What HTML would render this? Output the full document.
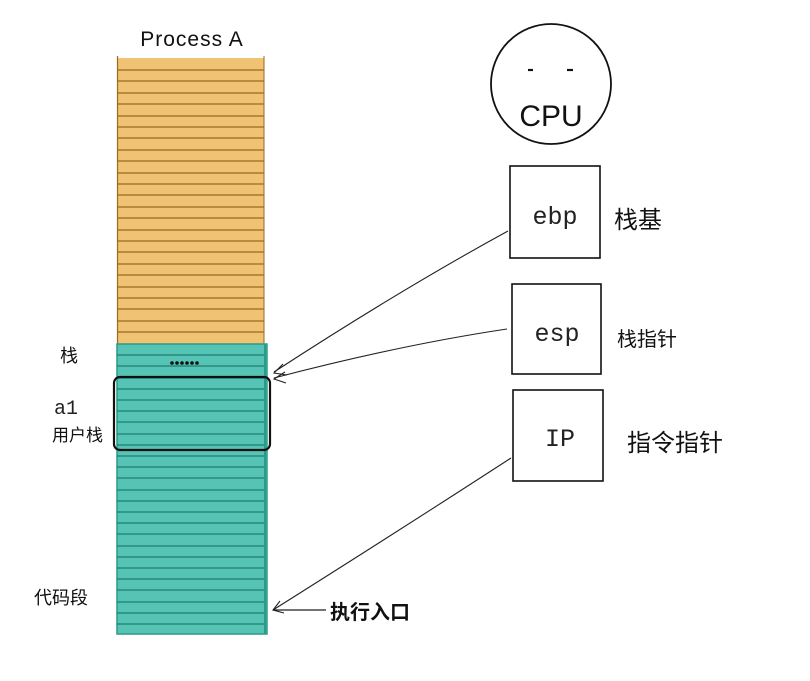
<!DOCTYPE html>
<html><head><meta charset="utf-8"><style>
html,body{margin:0;padding:0;background:#fff;width:810px;height:681px;overflow:hidden}
svg{display:block}
.cn{font-family:"Liberation Sans","Noto Sans CJK SC",sans-serif;fill:#111}
.mono{font-family:"Liberation Mono",monospace;fill:#222}
</style></head><body>
<svg width="810" height="681" viewBox="0 0 810 681" xmlns="http://www.w3.org/2000/svg">
<text x="192" y="46" text-anchor="middle" font-family="Liberation Sans,sans-serif" font-size="21" fill="#111" letter-spacing="1">Process A</text>
<rect x="117" y="58" width="147" height="286" fill="#f0c274"/>
<line x1="117.5" y1="56" x2="117.5" y2="344" stroke="#9a6a1e" stroke-width="1.2"/>
<line x1="264" y1="56" x2="264" y2="344" stroke="#9a6a1e" stroke-width="1"/>
<g stroke="#9a6a1e" stroke-width="1.3">
<line x1="117" x2="264" y1="70" y2="70"/><line x1="117" x2="264" y1="81" y2="81"/><line x1="117" x2="264" y1="93" y2="93"/><line x1="117" x2="264" y1="104" y2="104"/><line x1="117" x2="264" y1="116" y2="116"/><line x1="117" x2="264" y1="127" y2="127"/><line x1="117" x2="264" y1="138" y2="138"/><line x1="117" x2="264" y1="150" y2="150"/><line x1="117" x2="264" y1="161" y2="161"/><line x1="117" x2="264" y1="173" y2="173"/><line x1="117" x2="264" y1="184" y2="184"/><line x1="117" x2="264" y1="195" y2="195"/><line x1="117" x2="264" y1="207" y2="207"/><line x1="117" x2="264" y1="218" y2="218"/><line x1="117" x2="264" y1="230" y2="230"/><line x1="117" x2="264" y1="241" y2="241"/><line x1="117" x2="264" y1="252" y2="252"/><line x1="117" x2="264" y1="264" y2="264"/><line x1="117" x2="264" y1="275" y2="275"/><line x1="117" x2="264" y1="287" y2="287"/><line x1="117" x2="264" y1="298" y2="298"/><line x1="117" x2="264" y1="309" y2="309"/><line x1="117" x2="264" y1="321" y2="321"/><line x1="117" x2="264" y1="332" y2="332"/>
</g>
<rect x="117" y="344" width="150" height="290" fill="#56c4b4" stroke="#2a9a8a" stroke-width="1.5"/>
<line x1="265" y1="344" x2="265" y2="634" stroke="#2a9a8a" stroke-width="2"/>
<g stroke="#1f7d72" stroke-width="1.2">
<line x1="117" x2="264" y1="355" y2="355"/><line x1="117" x2="264" y1="366" y2="366"/><line x1="117" x2="264" y1="378" y2="378"/><line x1="117" x2="264" y1="389" y2="389"/><line x1="117" x2="264" y1="400" y2="400"/><line x1="117" x2="264" y1="411" y2="411"/><line x1="117" x2="264" y1="422" y2="422"/><line x1="117" x2="264" y1="434" y2="434"/><line x1="117" x2="264" y1="445" y2="445"/><line x1="117" x2="264" y1="456" y2="456"/><line x1="117" x2="264" y1="467" y2="467"/><line x1="117" x2="264" y1="478" y2="478"/><line x1="117" x2="264" y1="490" y2="490"/><line x1="117" x2="264" y1="501" y2="501"/><line x1="117" x2="264" y1="512" y2="512"/><line x1="117" x2="264" y1="523" y2="523"/><line x1="117" x2="264" y1="534" y2="534"/><line x1="117" x2="264" y1="546" y2="546"/><line x1="117" x2="264" y1="557" y2="557"/><line x1="117" x2="264" y1="568" y2="568"/><line x1="117" x2="264" y1="579" y2="579"/><line x1="117" x2="264" y1="590" y2="590"/><line x1="117" x2="264" y1="602" y2="602"/><line x1="117" x2="264" y1="613" y2="613"/><line x1="117" x2="264" y1="624" y2="624"/>
</g>
<g fill="#111"><circle cx="172" cy="363" r="1.8"/><circle cx="177" cy="363" r="1.8"/><circle cx="182" cy="363" r="1.8"/><circle cx="187" cy="363" r="1.8"/><circle cx="192" cy="363" r="1.8"/><circle cx="197" cy="363" r="1.8"/></g>
<rect x="114" y="377" width="156" height="73" rx="6" fill="none" stroke="#111" stroke-width="2.2"/>
<text class="cn" x="60" y="362" font-size="18">栈</text>
<text class="mono" x="54" y="414" font-size="20">a1</text>
<text class="cn" x="52" y="441" font-size="17">用户栈</text>
<text class="cn" x="34" y="604" font-size="18">代码段</text>
<text class="cn" x="330" y="619" font-size="20" font-weight="bold">执行入口</text>
<line x1="273" y1="610" x2="326" y2="610" stroke="#222" stroke-width="1.2"/>
<circle cx="551" cy="84" r="60" fill="none" stroke="#111" stroke-width="1.8"/>
<line x1="528" y1="70" x2="533" y2="70" stroke="#111" stroke-width="2.2"/>
<line x1="567" y1="70" x2="573" y2="70" stroke="#111" stroke-width="2.2"/>
<text x="551" y="126" text-anchor="middle" font-family="Liberation Sans,sans-serif" font-size="30" fill="#111">CPU</text>
<g fill="none" stroke="#111" stroke-width="1.6">
<rect x="510" y="166" width="90" height="92"/>
<rect x="512" y="284" width="89" height="90"/>
<rect x="513" y="390" width="90" height="91"/>
</g>
<text class="mono" x="555" y="224" text-anchor="middle" font-size="25">ebp</text>
<text class="mono" x="557" y="341" text-anchor="middle" font-size="25">esp</text>
<text class="mono" x="560" y="446" text-anchor="middle" font-size="25">IP</text>
<text class="cn" x="614" y="228" font-size="24">栈基</text>
<text class="cn" x="617" y="346" font-size="20">栈指针</text>
<text class="cn" x="627" y="451" font-size="24">指令指针</text>
<g fill="none" stroke="#222" stroke-width="1.1">
<path d="M508 231 Q400 290 274 372"/>
<path d="M507 329 Q400 345 274 378"/>
<path d="M511 458 Q400 530 273 610"/>
<path d="M283 364 L274 373 L287 375"/>
<path d="M285 372 L274 379 L286 383"/>
<path d="M280 601 L273 610 L284 613"/>
</g>
</svg>
</body></html>
